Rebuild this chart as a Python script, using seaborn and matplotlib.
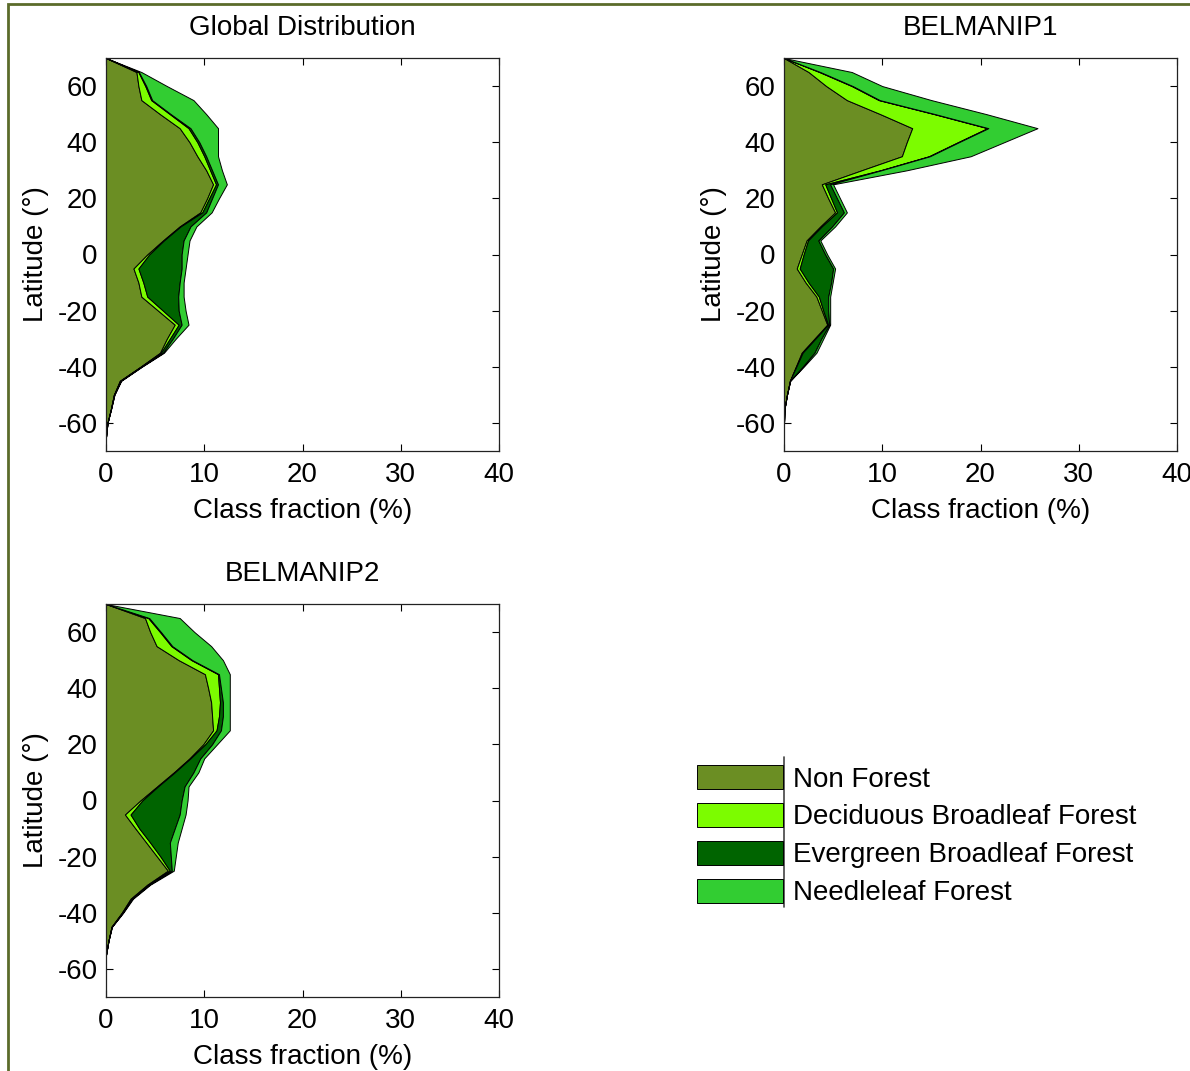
import matplotlib
matplotlib.use("Agg")
import matplotlib.pyplot as plt
from matplotlib.lines import Line2D
from matplotlib.patches import Rectangle
import numpy as np
import seaborn as sns

latitude = [70, 65, 60, 55, 50, 45, 40, 35, 30, 25, 20, 15, 10, 5, 0,
            -5, -10, -15, -20, -25, -30, -35, -40, -45, -50, -55, -60, -65, -70]

class_names = ['Non Forest', 'Deciduous Broadleaf Forest',
               'Evergreen Broadleaf Forest', 'Needleleaf Forest']
class_colors = ['#6B8E23', '#7CFC00', '#006400', '#32CD32']

# class fraction (%) per latitude band, one list per class
global_non_forest = [0, 3.1, 3.3, 3.6, 5.5, 7.5, 8.5, 9.3, 10.2, 10.9, 10.3, 9.6, 7.5, 5.8, 4.2,
                     2.8, 3.3, 3.6, 5.3, 7.0, 6.2, 5.5, 3.5, 1.4, 0.8, 0.5, 0.15, 0, 0]
global_deciduous = [0, 0.2, 0.7, 1.0, 1.0, 0.9, 0.8, 0.7, 0.4, 0.3, 0.2, 0.2, 0.1, 0.1, 0.2,
                    0.5, 0.5, 0.6, 0.5, 0.4, 0.3, 0.1, 0.05, 0.05, 0, 0, 0, 0, 0]
global_evergreen = [0, 0.05, 0.1, 0.1, 0.1, 0.2, 0.2, 0.2, 0.2, 0.2, 0.3, 0.4, 1.0, 2.0, 3.3,
                    4.4, 3.7, 3.15, 1.6, 0.3, 0.3, 0.2, 0.05, 0.05, 0.05, 0.02, 0, 0, 0]
global_needleleaf = [0, 0.25, 2.1, 4.2, 3.6, 2.8, 1.9, 1.2, 1.0, 0.9, 0.7, 0.55, 0.6, 0.6, 0.6,
                     0.4, 0.4, 0.55, 0.7, 0.7, 0.3, 0.1, 0.05, 0.05, 0, 0, 0, 0, 0]

b1_non_forest = [0, 2.5, 4.3, 6.4, 9.8, 13.05, 12.5, 12.0, 7.9, 3.85, 4.5, 5.2, 3.7, 2.3, 1.8,
                 1.3, 2.2, 3.3, 3.85, 4.4, 3.1, 1.8, 1.2, 0.6, 0.3, 0.05, 0, 0, 0]
b1_deciduous = [0, 1.1, 2.6, 3.25, 5.5, 7.65, 5.2, 2.75, 1.9, 0.35, 0.3, 0.2, 0.15, 0.15, 0.2,
                0.3, 0.3, 0.25, 0.15, 0.1, 0.1, 0.1, 0.05, 0, 0, 0, 0, 0, 0]
b1_evergreen = [0, 0.1, 0.1, 0.1, 0.1, 0.1, 0.1, 0.1, 0.1, 0.5, 0.6, 0.7, 1.05, 1.05, 2.2,
                3.4, 2.3, 0.95, 0.5, 0.1, 0.6, 1.2, 0.65, 0.02, 0, 0, 0, 0, 0]
b1_needleleaf = [0, 3.2, 3.0, 5.25, 5.2, 5.0, 4.6, 4.15, 2.6, 0.3, 0.3, 0.3, 0.3, 0.2, 0.2,
                 0.2, 0.15, 0.2, 0.2, 0.1, 0.2, 0.2, 0.1, 0.02, 0, 0, 0, 0, 0]

b2_non_forest = [0, 3.97, 4.5, 5.15, 7.4, 10.07, 10.4, 10.7, 10.8, 10.9, 9.9, 8.5, 6.9, 5.2, 3.5,
                 1.93, 3.0, 4.1, 5.2, 6.3, 4.2, 2.5, 1.6, 0.55, 0.25, 0, 0, 0, 0]
b2_deciduous = [0, 0.33, 1.0, 1.5, 1.3, 1.33, 1.1, 0.9, 0.7, 0.35, 0.2, 0.1, 0.1, 0.1, 0.2,
                0.57, 0.4, 0.4, 0.35, 0.2, 0.1, 0.1, 0.05, 0.02, 0, 0, 0, 0, 0]
b2_evergreen = [0, 0.1, 0.1, 0.1, 0.1, 0.1, 0.2, 0.3, 0.4, 0.45, 0.7, 1.0, 1.9, 2.7, 4.0,
                5.0, 3.6, 2.0, 1.05, 0.2, 0.1, 0.05, 0.05, 0.02, 0, 0, 0, 0, 0]
b2_needleleaf = [0, 3.1, 3.4, 3.95, 3.1, 1.1, 0.9, 0.7, 0.7, 0.9, 0.5, 0.4, 0.5, 0.4, 0.6,
                 0.6, 0.7, 0.8, 0.5, 0.2, 0.1, 0.1, 0.05, 0.02, 0, 0, 0, 0, 0]

FS = 20

sns.set_theme(style='ticks')
plt.rcParams['font.family'] = ['Liberation Sans', 'DejaVu Sans']
plt.rcParams['axes.unicode_minus'] = False
plt.rcParams['text.color'] = 'black'
plt.rcParams['axes.labelcolor'] = 'black'


def stacked_latitude_plot(ax, title, fractions):
	lat = np.array(latitude)
	left = np.zeros(len(lat))
	for frac, color, name in zip(fractions, class_colors, class_names):
		right = left + np.array(frac)
		ax.fill_betweenx(lat, left, right, facecolor=color, edgecolor='black',
						 linewidth=0.7, label=name)
		left = right

	ax.set_xlim(0, 40)
	ax.set_ylim(-70, 70)
	ax.set_xticks([0, 10, 20, 30, 40])
	ax.set_yticks([-60, -40, -20, 0, 20, 40, 60])
	ax.tick_params(direction='in', top=True, right=True, length=5, width=0.8,
				   labelsize=FS, colors='black', pad=6)
	ax.tick_params(axis='x', pad=8)
	for sp in ax.spines.values():
		sp.set_color('#222222')
		sp.set_linewidth(0.9)
	ax.set_xlabel('Class fraction (%)', fontsize=FS, labelpad=7)
	ax.set_ylabel('Latitude (°)', fontsize=FS, labelpad=6)
	ax.set_title(title, fontsize=FS, pad=16.5, color='black')


fig = plt.figure(figsize=(11.9, 10.71), dpi=100)
W, H = 1190.0, 1071.0

ax1 = fig.add_axes([106 / W, 1 - 451 / H, 393 / W, 393 / H])
ax2 = fig.add_axes([784 / W, 1 - 451 / H, 393 / W, 393 / H])
ax3 = fig.add_axes([106 / W, 1 - 997 / H, 393 / W, 393 / H])

stacked_latitude_plot(ax1, 'Global Distribution',
					  [global_non_forest, global_deciduous, global_evergreen, global_needleleaf])
stacked_latitude_plot(ax2, 'BELMANIP1',
					  [b1_non_forest, b1_deciduous, b1_evergreen, b1_needleleaf])
stacked_latitude_plot(ax3, 'BELMANIP2',
					  [b2_non_forest, b2_deciduous, b2_evergreen, b2_needleleaf])

handles, labels = ax1.get_legend_handles_labels()
fig.legend(handles, labels, loc='upper left', bbox_to_anchor=(697 / W, 1 - 765 / H),
		   frameon=False, fontsize=FS, handlelength=3.1, handleheight=0.96,
		   handletextpad=0.35, labelspacing=0.37, borderpad=0, borderaxespad=0)
fig.add_artist(Line2D([784 / W, 784 / W], [1 - 757 / H, 1 - 907 / H],
					  color='#444444', linewidth=1.2, transform=fig.transFigure))

# outer frame of the original image
fig.add_artist(Rectangle((8 / W, -0.05), 1.2, 1 - 4 / H + 0.05, transform=fig.transFigure,
						 fill=False, edgecolor='#5B6B2A', linewidth=2))

plt.savefig('out.png', dpi=100)
